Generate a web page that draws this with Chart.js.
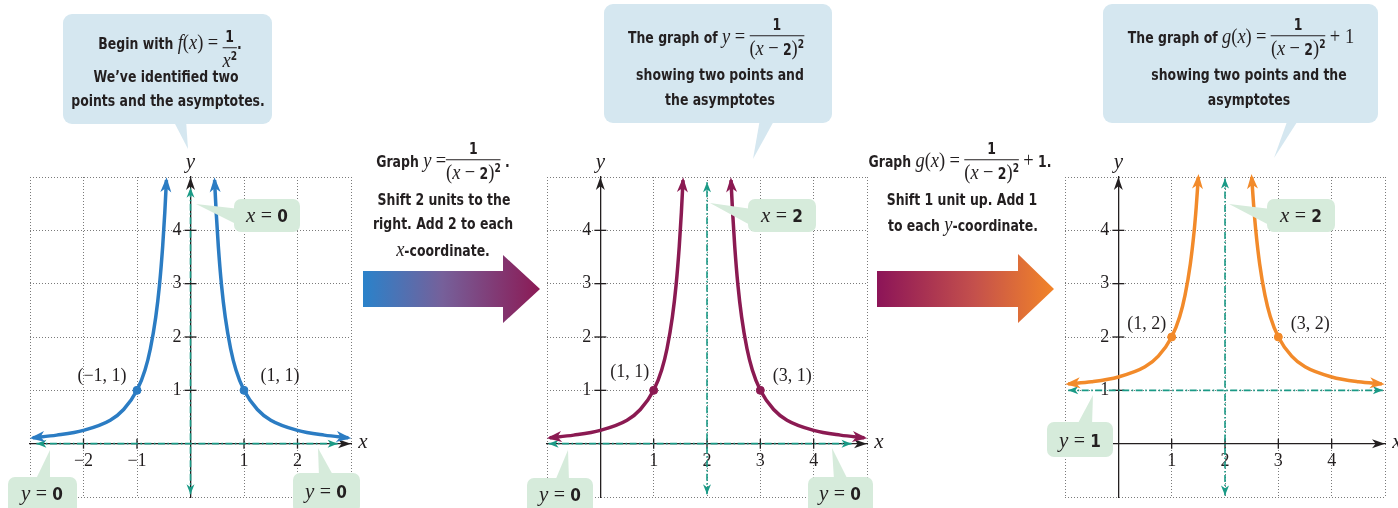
<!DOCTYPE html>
<html>
<head>
<meta charset="utf-8">
<script src="https://cdn.jsdelivr.net/npm/chart.js@4.4.1/dist/chart.umd.min.js"></script>
<style>
  body { margin: 0; background: #fff; width: 1398px; height: 508px; overflow: hidden; position: relative; }
  canvas { position: absolute; z-index: 1; }
  svg.deco { position: absolute; left: 0; top: 0; z-index: 2; }
  .note { position: absolute; z-index: 3; background: #d5e7f0; border-radius: 9px; }
  .tag { position: absolute; z-index: 3; background: #d6ebdb; border-radius: 7px; }
  .txt { position: absolute; z-index: 4; transform: translate(-50%, -50%) scaleX(0.84); white-space: nowrap; line-height: 1;
         font-family: "Liberation Sans Narrow", "DejaVu Sans Condensed", sans-serif; font-weight: bold;
         font-size: 16.5px; color: #231f20; }
  .m { font-family: "Liberation Serif", serif; font-style: italic; font-weight: normal; font-size: 22px; }
  .s { font-family: "Liberation Serif", serif; font-weight: normal; font-size: 22px; }
  .frac { display: inline-block; vertical-align: middle; text-align: center; position: relative; }
  .frac .n { display: block; border-bottom: 1.4px solid #231f20; padding: 0 2px 1px; }
  .frac .d { display: block; padding-top: 1px; }
  .sq { font-size: 12px; vertical-align: 7px; }
  .txt.tagtxt { font-size: 17px; transform: translate(-50%, -50%); }
  .tagtxt .m { font-size: 21px; }
  .tagtxt .s { font-size: 20px; }
</style>
</head>
<body>
<canvas id="c1" width="380" height="387" style="left:0px;top:140px"></canvas>
<canvas id="c2" width="380" height="387" style="left:520px;top:140px"></canvas>
<canvas id="c3" width="358" height="387" style="left:1040px;top:140px"></canvas>

<svg class="deco" width="1398" height="508">
  <defs>
    <linearGradient id="g1" x1="363" y1="0" x2="540" y2="0" gradientUnits="userSpaceOnUse">
      <stop offset="0" stop-color="#2a82ca"/>
      <stop offset="0.45" stop-color="#76609a"/>
      <stop offset="1" stop-color="#8b1a55"/>
    </linearGradient>
    <linearGradient id="g2" x1="877" y1="0" x2="1054" y2="0" gradientUnits="userSpaceOnUse">
      <stop offset="0" stop-color="#8c1458"/>
      <stop offset="0.55" stop-color="#c4504c"/>
      <stop offset="1" stop-color="#f28428"/>
    </linearGradient>
  </defs>
  <polygon points="363,271 503,271 503,255 540,289 503,323 503,307 363,307" fill="url(#g1)"/>
  <polygon points="877,271 1018,271 1018,254 1054,289 1018,323 1018,307 877,307" fill="url(#g2)"/>
  <!-- tails of the blue notes -->
  <polygon points="173,120 186,120 188,149" fill="#d5e7f0"/>
  <polygon points="760,119 775,119 753,159" fill="#d5e7f0"/>
  <polygon points="1288,119 1299,119 1274,158" fill="#d5e7f0"/>
  <!-- tails of the green tags -->
  <polygon points="196,204 240,209 240,226" fill="#d6ebdb"/>
  <polygon points="50,450 35,481 50,481" fill="#d6ebdb"/>
  <polygon points="318,448 319,477 334,477" fill="#d6ebdb"/>
  <polygon points="710,203 752,209 752,226" fill="#d6ebdb"/>
  <polygon points="568,450 555,481 569,481" fill="#d6ebdb"/>
  <polygon points="832,448 834,480 848,480" fill="#d6ebdb"/>
  <polygon points="1229,204 1271,209 1271,226" fill="#d6ebdb"/>
  <polygon points="1093,395 1077,425 1092,425" fill="#d6ebdb"/>
</svg>

<!-- blue notes -->
<div class="note" style="left:63px;top:14px;width:209px;height:110px"></div>
<div class="txt" style="left:170px;top:44px">Begin with <span class="m">f</span><span class="s">(</span><span class="m">x</span><span class="s">)</span> <span class="s">=</span> <span class="frac" style="top:6px"><span class="n">1</span><span class="d"><span class="m">x</span><span class="sq">2</span></span></span>.</div>
<div class="txt" style="left:166px;top:77px">We’ve identified two</div>
<div class="txt" style="left:168px;top:101px">points and the asymptotes.</div>

<div class="note" style="left:604px;top:4px;width:228px;height:119px"></div>
<div class="txt" style="left:716px;top:38px">The graph of <span class="m">y</span> <span class="s">=</span> <span class="frac"><span class="n">1</span><span class="d"><span class="s">(</span><span class="m">x</span> <span class="s">−</span> 2<span class="s">)</span><span class="sq">2</span></span></span></div>
<div class="txt" style="left:720px;top:75px">showing two points and</div>
<div class="txt" style="left:720px;top:100px">the asymptotes</div>

<div class="note" style="left:1103px;top:4px;width:275px;height:119px"></div>
<div class="txt" style="left:1241px;top:38px">The graph of <span class="m">g</span><span class="s">(</span><span class="m">x</span><span class="s">)</span> <span class="s">=</span> <span class="frac"><span class="n">1</span><span class="d"><span class="s">(</span><span class="m">x</span> <span class="s">−</span> 2<span class="s">)</span><span class="sq">2</span></span></span> <span class="s">+ 1</span></div>
<div class="txt" style="left:1249px;top:75px">showing two points and the</div>
<div class="txt" style="left:1249px;top:100px">asymptotes</div>

<!-- step texts -->
<div class="txt" style="left:443px;top:162px">Graph <span class="m">y</span> <span class="s">=</span><span class="frac"><span class="n">1</span><span class="d"><span class="s">(</span><span class="m">x</span> <span class="s">−</span> 2<span class="s">)</span><span class="sq">2</span></span></span> .</div>
<div class="txt" style="left:444px;top:200px">Shift 2 units to the</div>
<div class="txt" style="left:443px;top:224px">right. Add 2 to each</div>
<div class="txt" style="left:443px;top:249px"><span class="m">x</span>-coordinate.</div>

<div class="txt" style="left:960px;top:162px">Graph <span class="m">g</span><span class="s">(</span><span class="m">x</span><span class="s">)</span> <span class="s">=</span> <span class="frac"><span class="n">1</span><span class="d"><span class="s">(</span><span class="m">x</span> <span class="s">−</span> 2<span class="s">)</span><span class="sq">2</span></span></span> <span class="s">+</span> 1.</div>
<div class="txt" style="left:962px;top:200px">Shift 1 unit up. Add 1</div>
<div class="txt" style="left:963px;top:224px">to each <span class="m">y</span>-coordinate.</div>

<!-- green tags -->
<div class="tag" style="left:234px;top:199px;width:66px;height:33px"></div>
<div class="txt tagtxt" style="left:267px;top:215px"><span class="m">x</span> <span class="s">=</span> 0</div>
<div class="tag" style="left:8px;top:477px;width:69px;height:40px"></div>
<div class="txt tagtxt" style="left:42px;top:493px"><span class="m">y</span> <span class="s">=</span> 0</div>
<div class="tag" style="left:293px;top:473px;width:67px;height:40px"></div>
<div class="txt tagtxt" style="left:326px;top:491px"><span class="m">y</span> <span class="s">=</span> 0</div>

<div class="tag" style="left:748px;top:199px;width:68px;height:33px"></div>
<div class="txt tagtxt" style="left:782px;top:215px"><span class="m">x</span> <span class="s">=</span> 2</div>
<div class="tag" style="left:527px;top:478px;width:66px;height:40px"></div>
<div class="txt tagtxt" style="left:560px;top:494px"><span class="m">y</span> <span class="s">=</span> 0</div>
<div class="tag" style="left:808px;top:477px;width:65px;height:40px"></div>
<div class="txt tagtxt" style="left:840px;top:493px"><span class="m">y</span> <span class="s">=</span> 0</div>

<div class="tag" style="left:1267px;top:199px;width:68px;height:33px"></div>
<div class="txt tagtxt" style="left:1301px;top:215px"><span class="m">x</span> <span class="s">=</span> 2</div>
<div class="tag" style="left:1047px;top:422px;width:66px;height:35px"></div>
<div class="txt tagtxt" style="left:1080px;top:440px"><span class="m">y</span> <span class="s">=</span> 1</div>

<script>
// ---- data ----
// panel 1: f(x) = 1/x^2
const f1LeftX  = [-2.95, -2.5, -2, -1.5, -1.25, -1, -0.85, -0.75, -0.65, -0.58, -0.52, -0.48, -0.45];
const f1LeftY  = [0.11, 0.16, 0.25, 0.44, 0.64, 1, 1.38, 1.78, 2.37, 2.97, 3.7, 4.34, 4.94];
const f1RightX = [0.45, 0.48, 0.52, 0.58, 0.65, 0.75, 0.85, 1, 1.25, 1.5, 2, 2.5, 2.95];
const f1RightY = [4.94, 4.34, 3.7, 2.97, 2.37, 1.78, 1.38, 1, 0.64, 0.44, 0.25, 0.16, 0.11];
const f1PtsX = [-1, 1];
const f1PtsY = [1, 1];
const f1PtsLabels = ['(−1, 1)', '(1, 1)'];
const f1AsymHX = [-2.88, 2.75], f1AsymHY = [0, 0];
const f1AsymVX = [0, 0], f1AsymVY = [-0.95, 4.8];
const f1XTicks = [-2, -1, 1, 2];
const f1XTickLabels = ['−2', '−1', '1', '2'];

// panel 2: y = 1/(x-2)^2
const f2LeftX  = [-0.95, -0.5, 0, 0.5, 0.75, 1, 1.15, 1.25, 1.35, 1.42, 1.48, 1.52, 1.55];
const f2LeftY  = [0.11, 0.16, 0.25, 0.44, 0.64, 1, 1.38, 1.78, 2.37, 2.97, 3.7, 4.34, 4.94];
const f2RightX = [2.45, 2.48, 2.52, 2.58, 2.65, 2.75, 2.85, 3, 3.25, 3.5, 4, 4.5, 4.95];
const f2RightY = [4.94, 4.34, 3.7, 2.97, 2.37, 1.78, 1.38, 1, 0.64, 0.44, 0.25, 0.16, 0.11];
const f2PtsX = [1, 3];
const f2PtsY = [1, 1];
const f2PtsLabels = ['(1, 1)', '(3, 1)'];
const f2AsymHX = [-0.97, 4.71], f2AsymHY = [0, 0];
const f2AsymVX = [2, 2], f2AsymVY = [-0.95, 4.9];

// panel 3: g(x) = 1/(x-2)^2 + 1
const f3LeftX  = [-0.94, -0.5, 0, 0.5, 0.75, 1, 1.15, 1.25, 1.35, 1.42, 1.46, 1.5];
const f3LeftY  = [1.12, 1.16, 1.25, 1.44, 1.64, 2, 2.38, 2.78, 3.37, 3.97, 4.43, 5.0];
const f3RightX = [2.5, 2.54, 2.58, 2.65, 2.75, 2.85, 3, 3.25, 3.5, 4, 4.5, 4.94];
const f3RightY = [5.0, 4.43, 3.97, 3.37, 2.78, 2.38, 2, 1.64, 1.44, 1.25, 1.16, 1.12];
const f3PtsX = [1, 3];
const f3PtsY = [2, 2];
const f3PtsLabels = ['(1, 2)', '(3, 2)'];
const f3AsymHX = [-0.94, 4.96], f3AsymHY = [1, 1];
const f3AsymVX = [2, 2], f3AsymVY = [-0.97, 4.97];

const posXTicks = [1, 2, 3, 4];
const posXTickLabels = ['1', '2', '3', '4'];
const yTicks = [1, 2, 3, 4];
const yTickLabels = ['1', '2', '3', '4'];

// ---- styling ----
const ink = '#231f20';
const teal = '#1a9a86';
const blue = '#2b7cc3';
const maroon = '#8b1a52';
const orange = '#f28a2a';

function pairs(xs, ys) {
    return xs.map((x, i) => ({ x: x, y: ys[i] }));
}

function curve(xs, ys, color) {
    return {
        data: pairs(xs, ys), showLine: true, borderColor: color, borderWidth: 3.5,
        pointRadius: 0, cubicInterpolationMode: 'monotone', borderCapStyle: 'butt',
        arrowColor: color, arrowLen: 15, arrowHalf: 5.5, arrowPush: 3
    };
}

function asymptote(xs, ys) {
    return {
        data: pairs(xs, ys), showLine: true, borderColor: teal, borderWidth: 1.6,
        borderDash: [7, 2.5, 1.5, 2.5], pointRadius: 0,
        arrowColor: teal, arrowLen: 10, arrowHalf: 4, arrowPush: 0
    };
}

function dots(xs, ys, color, labels, offsets) {
    return {
        data: pairs(xs, ys), showLine: false, pointRadius: 4,
        pointBackgroundColor: color, pointBorderColor: color,
        ptLabels: labels, ptOffsets: offsets
    };
}

function arrowHead(ctx, tx, ty, fx, fy, len, half, color) {
    const a = Math.atan2(ty - fy, tx - fx);
    ctx.save();
    ctx.translate(tx, ty);
    ctx.rotate(a);
    ctx.beginPath();
    ctx.moveTo(0, 0);
    ctx.lineTo(-len, -half);
    ctx.lineTo(-len * 0.72, 0);
    ctx.lineTo(-len, half);
    ctx.closePath();
    ctx.fillStyle = color;
    ctx.fill();
    ctx.restore();
}

// 画坐标轴箭头、刻度、端点箭头和点标签
const decor = {
    id: 'decor',
    beforeDatasetsDraw(chart, args, o) {
        const { ctx, chartArea: a, scales: { x, y } } = chart;
        const x0 = x.getPixelForValue(0), y0 = y.getPixelForValue(0);
        ctx.save();
        ctx.strokeStyle = ink;
        ctx.lineWidth = 1.3;
        o.xTicks.forEach(v => {
            const px = x.getPixelForValue(v);
            ctx.beginPath(); ctx.moveTo(px, y0 - 5); ctx.lineTo(px, y0 + 5); ctx.stroke();
        });
        o.yTicks.forEach(v => {
            const py = y.getPixelForValue(v);
            ctx.beginPath(); ctx.moveTo(x0 - 6, py); ctx.lineTo(x0 + 6, py); ctx.stroke();
        });
        ctx.restore();
        arrowHead(ctx, a.right, y0, a.right - 10, y0, 13, 4.5, ink);
        arrowHead(ctx, x0, a.top, x0, a.top + 10, 13, 4.5, ink);
    },
    afterDatasetsDraw(chart, args, o) {
        const { ctx, chartArea: a, scales: { x, y } } = chart;
        chart.data.datasets.forEach((ds, i) => {
            const pts = chart.getDatasetMeta(i).data;
            if (ds.arrowLen) {
                [[pts.length - 1, pts.length - 2], [0, 1]].forEach(([e, p]) => {
                    const tx = pts[e].x, ty = pts[e].y, fx = pts[p].x, fy = pts[p].y;
                    const d = Math.hypot(tx - fx, ty - fy) || 1;
                    const ux = (tx - fx) / d, uy = (ty - fy) / d;
                    arrowHead(ctx, tx + ux * ds.arrowPush, ty + uy * ds.arrowPush, fx, fy,
                        ds.arrowLen, ds.arrowHalf, ds.arrowColor);
                });
            }
            if (ds.ptLabels) {
                ctx.save();
                ctx.font = '18px "Liberation Serif", serif';
                ctx.fillStyle = ink;
                ctx.textAlign = 'center';
                ctx.textBaseline = 'middle';
                pts.forEach((p, k) => {
                    ctx.fillText(ds.ptLabels[k], p.x + ds.ptOffsets[k][0], p.y + ds.ptOffsets[k][1]);
                });
                ctx.restore();
            }
        });
        const x0 = x.getPixelForValue(0), y0 = y.getPixelForValue(0);
        ctx.save();
        ctx.font = 'italic 21px "Liberation Serif", serif';
        ctx.fillStyle = ink;
        ctx.textAlign = 'center';
        ctx.textBaseline = 'middle';
        ctx.fillText('x', a.right + 12, y0 - 1);
        ctx.fillText('y', x0, a.top - 15);
        ctx.restore();
    }
};

function makeChart(id, datasets, xMin, xMax, xTicks, xTickLabels, pad) {
    const tickFont = { family: '"Liberation Serif", serif', size: 18 };
    return new Chart(document.getElementById(id), {
        type: 'scatter',
        data: { datasets: datasets },
        options: {
            responsive: false,
            animation: false,
            devicePixelRatio: 1,
            layout: { padding: pad },
            plugins: {
                legend: { display: false },
                tooltip: { enabled: false },
                decor: { xTicks: xTicks, yTicks: yTicks }
            },
            scales: {
                x: {
                    type: 'linear', min: xMin, max: xMax, position: { y: 0 },
                    ticks: {
                        stepSize: 1, autoSkip: false, padding: 7, color: ink, font: tickFont, maxRotation: 0,
                        callback: v => { const k = xTicks.indexOf(v); return k < 0 ? '' : xTickLabels[k]; }
                    },
                    grid: { color: '#7a7a7a', lineWidth: 1, drawTicks: false },
                    border: { display: true, color: ink, width: 1.3, dash: [1, 2] }
                },
                y: {
                    type: 'linear', min: -1, max: 5, position: { x: 0 },
                    ticks: {
                        stepSize: 1, autoSkip: false, padding: 8, color: ink, font: tickFont,
                        callback: v => { const k = yTicks.indexOf(v); return k < 0 ? '' : yTickLabels[k] + '  '; }
                    },
                    grid: { color: '#7a7a7a', lineWidth: 1, drawTicks: false },
                    border: { display: true, color: ink, width: 1.3, dash: [1, 2] }
                }
            }
        },
        plugins: [decor]
    });
}

makeChart('c1', [
    asymptote(f1AsymHX, f1AsymHY),
    asymptote(f1AsymVX, f1AsymVY),
    curve(f1LeftX, f1LeftY, blue),
    curve(f1RightX, f1RightY, blue),
    dots(f1PtsX, f1PtsY, blue, f1PtsLabels, [[-35, -14], [36, -14]])
], -3, 3, f1XTicks, f1XTickLabels, { left: 30, top: 37, right: 29, bottom: 30 });

makeChart('c2', [
    asymptote(f2AsymHX, f2AsymHY),
    asymptote(f2AsymVX, f2AsymVY),
    curve(f2LeftX, f2LeftY, maroon),
    curve(f2RightX, f2RightY, maroon),
    dots(f2PtsX, f2PtsY, maroon, f2PtsLabels, [[-24, -18], [32, -14]])
], -1, 5, posXTicks, posXTickLabels, { left: 27, top: 37, right: 33, bottom: 30 });

makeChart('c3', [
    asymptote(f3AsymHX, f3AsymHY),
    asymptote(f3AsymVX, f3AsymVY),
    curve(f3LeftX, f3LeftY, orange),
    curve(f3RightX, f3RightY, orange),
    dots(f3PtsX, f3PtsY, orange, f3PtsLabels, [[-25, -13], [32, -13]])
], -1, 5, posXTicks, posXTickLabels, { left: 25, top: 37, right: 13, bottom: 30 });
</script>
</body>
</html>
